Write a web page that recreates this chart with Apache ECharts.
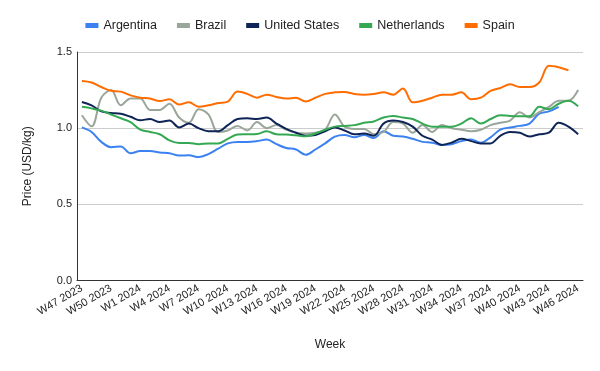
<!DOCTYPE html>
<html><head><meta charset="utf-8">
<script src="https://cdn.jsdelivr.net/npm/echarts@6/dist/echarts.min.js"></script>
<style>html,body{margin:0;padding:0;background:#fff}#c{width:600px;height:371px}</style>
</head><body><div id="c"></div>
<script>
const weeks = ["W47 2023","W48 2023","W49 2023","W50 2023","W51 2023","W52 2023",
  "W1 2024","W2 2024","W3 2024","W4 2024","W5 2024","W6 2024","W7 2024","W8 2024","W9 2024","W10 2024",
  "W11 2024","W12 2024","W13 2024","W14 2024","W15 2024","W16 2024","W17 2024","W18 2024","W19 2024","W20 2024",
  "W21 2024","W22 2024","W23 2024","W24 2024","W25 2024","W26 2024","W27 2024","W28 2024","W29 2024","W30 2024",
  "W31 2024","W32 2024","W33 2024","W34 2024","W35 2024","W36 2024","W37 2024","W38 2024","W39 2024","W40 2024",
  "W41 2024","W42 2024","W43 2024","W44 2024","W45 2024","W46 2024"];
const argentina = [1.005,0.975,0.91,0.875,0.88,0.835,0.85,0.85,0.84,0.835,0.82,0.822,0.81,0.83,0.865,0.90,
  0.91,0.91,0.915,0.925,0.895,0.87,0.86,0.825,0.86,0.90,0.945,0.955,0.94,0.955,0.935,0.98,0.95,0.945,0.93,0.91,
  0.905,0.89,0.895,0.915,0.925,0.905,0.94,0.99,1.005,1.015,1.03,1.095,1.11,1.14,null,null];
const brazil = [1.085,1.012,1.20,1.25,1.15,1.195,1.195,1.12,1.12,1.16,1.07,1.035,1.125,1.09,0.975,0.985,
  1.015,0.985,1.04,1.0,1.02,0.99,0.97,0.965,0.97,0.99,1.09,1.01,0.995,0.995,0.96,0.975,1.04,1.03,0.97,1.02,
  0.975,1.02,1.0,0.99,0.98,0.99,1.02,1.035,1.05,1.105,1.07,1.105,1.14,1.18,1.18,1.25];
const unitedStates = [1.172,1.15,1.11,1.10,1.095,1.075,1.052,1.06,1.04,1.05,1.005,1.03,1.0,0.98,0.98,1.02,
  1.06,1.065,1.06,1.07,1.03,0.995,0.97,0.95,0.955,0.98,1.005,0.985,0.96,0.965,0.95,1.03,1.05,1.04,1.01,0.95,
  0.925,0.89,0.905,0.93,0.915,0.90,0.90,0.95,0.975,0.97,0.945,0.96,0.97,1.035,1.01,0.96];
const netherlands = [1.14,1.13,1.115,1.09,1.065,1.04,0.99,0.975,0.96,0.92,0.903,0.903,0.895,0.90,0.90,0.93,
  0.958,0.96,0.962,0.98,0.96,0.958,0.953,0.947,0.965,0.99,1.01,1.015,1.02,1.035,1.044,1.07,1.08,1.07,1.06,1.03,
  1.01,1.01,1.01,1.03,1.065,1.03,1.06,1.085,1.08,1.078,1.078,1.14,1.125,1.16,1.18,1.143];
const spain = [1.31,1.30,1.27,1.245,1.24,1.215,1.20,1.195,1.178,1.19,1.155,1.17,1.14,1.15,1.165,1.175,
  1.24,1.225,1.20,1.22,1.205,1.194,1.20,1.175,1.20,1.225,1.235,1.238,1.225,1.22,1.225,1.235,1.22,1.26,1.17,1.18,
  1.20,1.22,1.22,1.235,1.19,1.20,1.245,1.264,1.288,1.27,1.27,1.30,1.41,1.40,1.38,null];
const yTicks = [0, 0.5, 1.0, 1.5];

const names = ["Argentina","Brazil","United States","Netherlands","Spain"];
const colors = ["#3b82f0","#9aa69a","#0f2456","#34a853","#ff6d01"];
const datas = [argentina, brazil, unitedStates, netherlands, spain];

const chart = echarts.init(document.getElementById('c'), null, {renderer:'canvas'});
const font = "Arial, 'Liberation Sans', sans-serif";
chart.setOption({
  animation:false,
  color: colors,
  textStyle:{fontFamily:font},
  legend:{
    top:14, left:'center', itemWidth:13, itemHeight:5, itemGap:20,
    icon:'rect',
    textStyle:{fontSize:12.5, color:'#222', fontFamily:font},
    data:names
  },
  grid:{left:77, right:17, top:52, bottom:90.5, containLabel:false},
  xAxis:{
    type:'category', data:weeks, boundaryGap:true,
    axisLine:{lineStyle:{color:'#333', width:1}},
    axisTick:{show:false},
    axisLabel:{interval:2, rotate:30, fontSize:11, color:'#222', margin:7, fontFamily:font},
    name:'Week', nameLocation:'middle', nameGap:58,
    nameTextStyle:{fontSize:12, color:'#222', fontFamily:font}
  },
  yAxis:{
    type:'value', min:yTicks[0], max:yTicks[yTicks.length-1], interval:0.5,
    axisLine:{show:true, lineStyle:{color:'#333', width:1}},
    axisTick:{show:false},
    axisLabel:{formatter:v=>v.toFixed(1), fontSize:11, color:'#222', margin:5, fontFamily:font},
    splitLine:{lineStyle:{color:'#cccccc'}},
    name:'Price (USD/kg)', nameLocation:'middle', nameGap:43,
    nameTextStyle:{fontSize:12, color:'#222', fontFamily:font}
  },
  series: names.map((n,i)=>({
    name:n, type:'line', data:datas[i], smooth:0.35, showSymbol:false, symbol:'none',
    lineStyle:{width:2, color:colors[i]}, itemStyle:{color:colors[i]}, connectNulls:false
  }))
});
</script></body></html>
